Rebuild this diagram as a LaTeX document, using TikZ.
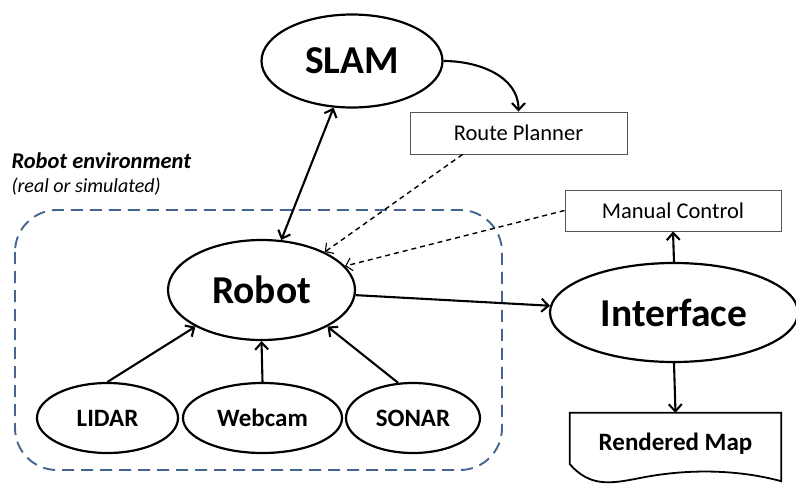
\documentclass[tikz,border=0pt]{standalone}
\usepackage{fontspec}
\setmainfont{Carlito}
\usetikzlibrary{arrows.meta,shapes.geometric}
\definecolor{envblue}{HTML}{44658F}
\definecolor{boxgray}{HTML}{555555}
\begin{document}
\begin{tikzpicture}[x=1pt,y=-1pt,
  oval/.style={ellipse,draw,line width=2.2pt,inner sep=0pt},
  bigtxt/.style={font=\fontsize{39.5}{44}\selectfont\bfseries},
  midtxt/.style={font=\fontsize{25}{29}\selectfont\bfseries},
  plainbox/.style={draw=boxgray,line width=0.9pt,inner sep=0pt,font=\fontsize{22.5}{26}\selectfont},
  link/.style={line width=2.1pt,-{Straight Barb[length=7pt,width=13pt]}},
  hint/.style={line width=1.4pt,dash pattern=on 5pt off 4pt,-{Straight Barb[length=6pt,width=13pt,line width=1.1pt]}}]
\useasboundingbox (0,0) rectangle (796,488);

% robot environment frame
\draw[envblue,line width=1.9pt,dash pattern=on 12pt off 7pt,rounded corners=42pt]
  (15,210) rectangle (502,470);
\node[anchor=west,font=\fontsize{22.5}{26}\selectfont\bfseries\itshape] (envtitle) at (8,161) {Robot environment};
\node[anchor=west,font=\fontsize{20}{24}\selectfont\itshape] (envsub) at (8,187) {(real or simulated)};

% nodes
\node[oval,bigtxt,minimum width=181pt,minimum height=93pt] (slam) at (352,61) {SLAM};
\node[plainbox,minimum width=217pt,minimum height=42pt] (route) at (518.5,133) {Route Planner};
\node[plainbox,minimum width=216pt,minimum height=41pt] (manual) at (673,210.5) {Manual Control};
\node[oval,bigtxt,minimum width=187pt,minimum height=100pt] (robot) at (261.5,290) {Robot};
\node[oval,bigtxt,minimum width=248pt,minimum height=99pt] (iface) at (674,312.5) {Interface};
\node[oval,midtxt,minimum width=141pt,minimum height=70pt] (lidar) at (107.5,418) {LIDAR};
\node[oval,midtxt,minimum width=159pt,minimum height=70pt] (webcam) at (262.5,418) {Webcam};
\node[oval,midtxt,minimum width=134pt,minimum height=70pt] (sonar) at (413,418) {SONAR};

% rendered map (document shape)
\node[midtxt,minimum width=211pt,minimum height=62pt,inner sep=0pt] (map) at (675.5,444) {Rendered Map};
\draw[line width=1.8pt]
  (map.north west) -- (map.north east) -- ([yshift=-6pt]map.south east)
  .. controls (740,470) and (690,468) .. (640,478)
  .. controls (610,484) and (590,487) .. ([yshift=11pt]map.south west) -- cycle;

% connectors
\draw[link,{Straight Barb[length=7pt,width=13pt]}-{Straight Barb[length=7pt,width=13pt]}] (slam) -- (robot);
\draw[link] (slam.east) to[out=0,in=90] (route.north);
\coordinate (rs) at ([xshift=53pt]route.south west);
\draw[hint] (rs) -- (robot.31.5);
\draw[hint] (manual.west) -- (robot.16);
\draw[link] (robot) -- (iface);
\draw[link] (iface.north) -- (manual.south);
\draw[link] (iface.south) -- (map.north);
\draw[link] (lidar.north) -- (robot.209);
\draw[link] (webcam.north) -- (robot.south);
\draw[link] (sonar.113) -- (robot.331);
\end{tikzpicture}
\end{document}
